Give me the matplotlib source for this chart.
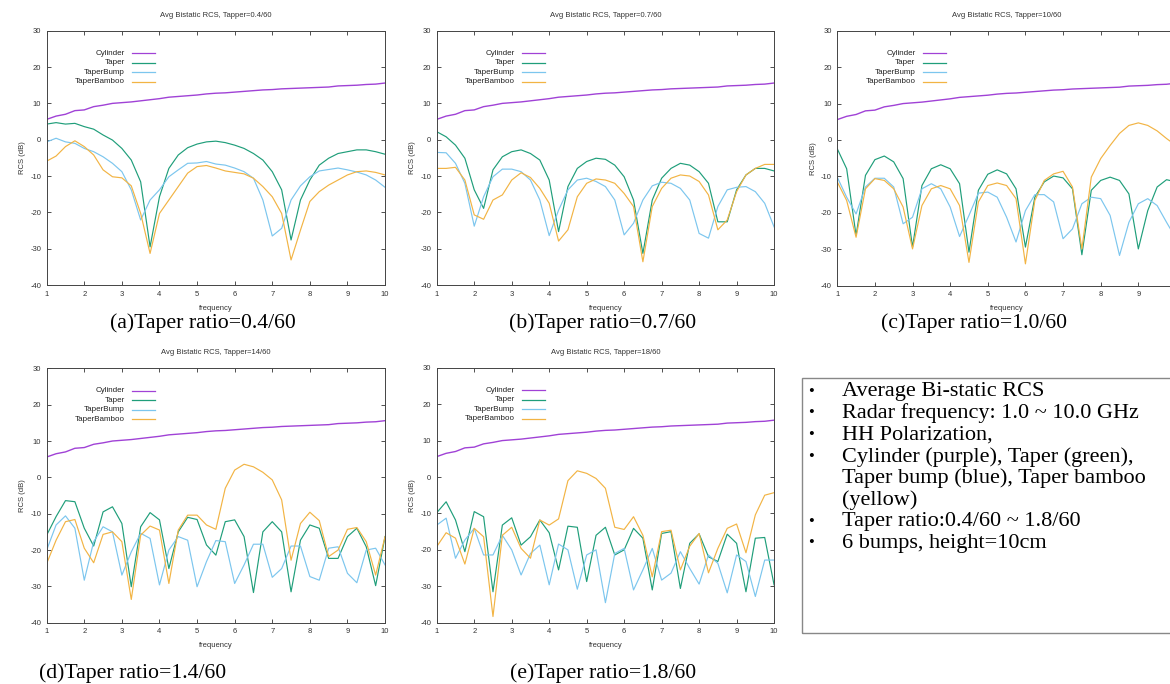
import matplotlib.pyplot as plt
from matplotlib.patches import Rectangle

plt.rcParams['axes.unicode_minus'] = False

# frequency grid (GHz), 0.25 step
freq = [1.0, 1.25, 1.5, 1.75, 2.0, 2.25, 2.5, 2.75, 3.0, 3.25, 3.5, 3.75, 4.0,
        4.25, 4.5, 4.75, 5.0, 5.25, 5.5, 5.75, 6.0, 6.25, 6.5, 6.75, 7.0,
        7.25, 7.5, 7.75, 8.0, 8.25, 8.5, 8.75, 9.0, 9.25, 9.5, 9.75, 10.0]

cylinder = [5.6, 6.5, 7.0, 8.0, 8.2, 9.1, 9.5, 10.0, 10.2, 10.4, 10.7, 11.0, 11.3,
            11.7, 11.9, 12.1, 12.3, 12.6, 12.8, 12.9, 13.1, 13.3, 13.5, 13.7, 13.8,
            14.0, 14.1, 14.2, 14.3, 14.4, 14.5, 14.8, 14.9, 15.0, 15.2, 15.3, 15.6]

# (a) taper 0.4/60
taper_a = [4.3, 4.7, 4.3, 4.5, 3.6, 2.9, 1.3, -0.1, -2.4, -5.6, -11.6, -29.5, -15.7,
           -7.9, -4.2, -2.2, -1.2, -0.6, -0.4, -0.8, -1.5, -2.4, -3.8, -5.6, -8.8,
           -13.8, -27.6, -16.6, -11.1, -7.0, -5.1, -3.8, -3.3, -2.8, -2.8, -3.3, -4.0]
bump_a = [-0.6, 0.4, -0.6, -1.0, -2.4, -3.3, -4.7, -6.5, -8.8, -13.8, -22.1, -16.6, -13.8,
          -10.2, -8.3, -6.5, -6.4, -6.0, -6.7, -7.0, -7.8, -8.8, -10.6, -16.6, -26.5,
          -24.4, -16.6, -12.7, -10.2, -8.6, -8.2, -7.8, -8.3, -8.9, -9.7, -11.1, -13.1]
bamboo_a = [-5.9, -4.5, -1.9, -0.3, -1.9, -4.2, -8.3, -10.2, -10.5, -12.7, -20.3, -31.3, -20.3,
            -16.6, -12.9, -9.2, -7.4, -7.1, -7.8, -8.6, -9.0, -9.4, -10.6, -12.9, -15.7,
            -20.3, -33.1, -24.9, -17.0, -14.3, -12.5, -11.1, -9.7, -8.8, -8.6, -9.0, -9.7]

# (b) taper 0.7/60
taper_b = [2.2, 0.8, -1.5, -5.1, -13.8, -18.9, -8.3, -4.7, -3.3, -2.8, -3.8, -5.6, -11.1,
           -25.3, -12.9, -7.9, -6.0, -5.1, -5.4, -7.0, -10.2, -16.6, -31.3, -16.6, -10.6,
           -7.9, -6.5, -7.0, -8.8, -12.0, -22.6, -22.6, -13.8, -9.7, -7.9, -7.9, -8.6]
bump_b = [-3.5, -3.6, -6.5, -12.0, -23.8, -15.7, -10.2, -8.1, -8.1, -8.8, -11.1, -16.6, -26.4,
          -19.4, -13.8, -11.1, -10.6, -11.5, -12.9, -16.6, -26.2, -23.0, -16.6, -12.7, -11.7,
          -12.0, -13.4, -16.6, -25.8, -27.1, -18.4, -13.8, -13.1, -12.9, -14.3, -17.5, -24.0]
bamboo_b = [-7.9, -7.9, -7.6, -11.1, -20.7, -21.9, -16.6, -15.2, -11.1, -9.1, -10.4, -13.4, -17.5,
            -27.9, -24.8, -15.7, -12.0, -10.8, -11.1, -12.0, -14.8, -18.4, -33.6, -18.4, -13.4,
            -10.6, -9.7, -10.0, -11.5, -15.2, -24.8, -22.1, -14.3, -9.7, -7.9, -6.8, -6.8]

# (c) taper 1.0/60
taper_c = [-2.4, -7.9, -26.2, -9.7, -5.4, -4.4, -6.0, -10.6, -29.4, -12.5, -7.9, -6.8, -7.9,
           -12.0, -30.8, -13.8, -9.4, -8.2, -9.3, -13.4, -29.4, -15.7, -11.5, -9.9, -10.4,
           -13.4, -31.5, -13.8, -11.1, -10.2, -11.1, -14.8, -29.9, -19.4, -12.9, -10.9, -11.5]
bump_c = [-10.2, -15.7, -20.3, -12.9, -10.5, -10.5, -12.9, -23.0, -21.2, -13.4, -12.0, -13.4, -18.4,
          -26.5, -20.7, -14.6, -14.3, -15.7, -21.2, -28.0, -19.4, -15.0, -15.0, -17.0, -27.1,
          -24.4, -17.5, -15.7, -16.1, -20.7, -31.7, -22.6, -17.5, -16.1, -18.0, -22.6, -27.0]
bamboo_c = [-11.5, -16.6, -26.7, -13.4, -10.6, -11.1, -13.4, -18.4, -29.9, -18.0, -13.4, -12.5, -13.4,
            -18.0, -33.6, -17.0, -12.5, -11.8, -12.5, -16.1, -34.0, -16.6, -11.1, -9.3, -8.6,
            -12.9, -29.9, -10.2, -5.1, -1.5, 1.8, 4.0, 4.7, 4.0, 2.5, 0.4, -1.5]

# (d) taper 1.4/60
taper_d = [-15.9, -10.8, -6.4, -6.7, -14.0, -18.9, -9.5, -8.1, -12.7, -30.1, -13.6, -9.7, -11.7,
           -25.1, -15.0, -11.0, -11.6, -18.6, -21.4, -12.2, -11.7, -16.3, -31.7, -15.0, -12.2,
           -15.0, -31.5, -17.3, -13.1, -14.0, -22.3, -22.3, -16.3, -14.0, -19.1, -29.8, -16.3]
bump_d = [-20.0, -13.1, -10.6, -14.0, -28.3, -17.7, -13.6, -15.0, -26.9, -20.5, -15.4, -16.8, -29.6,
          -20.0, -16.3, -17.3, -30.1, -23.2, -17.4, -17.7, -29.2, -24.1, -18.4, -18.4, -27.5,
          -25.1, -18.9, -18.9, -27.3, -28.3, -19.5, -19.1, -26.4, -29.0, -20.0, -19.5, -24.1]
bamboo_d = [-23.7, -17.3, -12.2, -11.6, -19.5, -23.5, -15.7, -15.0, -17.7, -33.6, -15.9, -13.4, -14.5,
            -29.2, -14.5, -10.4, -10.4, -13.1, -14.3, -3.0, 2.0, 3.6, 2.9, 1.4, -0.7,
            -6.2, -22.8, -12.7, -9.6, -11.9, -21.8, -20.0, -14.3, -13.8, -17.7, -26.9, -16.3]

# (e) taper 1.8/60
taper_e = [-9.8, -6.8, -11.8, -20.5, -9.5, -10.9, -31.5, -13.2, -11.2, -18.7, -16.4, -11.8, -15.3,
           -25.5, -13.5, -13.8, -28.7, -16.0, -13.8, -21.4, -20.0, -14.1, -16.8, -31.0, -15.5,
           -15.0, -30.6, -18.2, -15.6, -21.9, -23.2, -15.7, -18.2, -31.5, -16.8, -16.6, -29.6]
bump_e = [-13.2, -11.3, -22.3, -17.3, -14.1, -21.4, -21.4, -16.0, -20.0, -26.9, -21.0, -18.7, -29.6,
          -18.4, -20.0, -30.8, -21.4, -20.0, -34.5, -21.0, -19.6, -31.0, -25.5, -19.6, -28.3,
          -26.4, -20.5, -25.1, -29.4, -21.4, -23.7, -31.8, -21.4, -23.2, -32.8, -22.8, -22.8]
bamboo_e = [-19.1, -15.3, -16.8, -23.9, -14.1, -16.4, -38.3, -16.0, -13.8, -19.6, -22.3, -11.8, -13.2,
            -11.5, -1.0, 1.7, 1.0, -0.4, -3.1, -13.8, -14.4, -10.9, -16.0, -27.4, -15.0,
            -14.6, -25.5, -19.0, -15.5, -26.3, -19.6, -14.1, -12.9, -20.8, -10.4, -5.0, -4.3]

labels = ['Cylinder', 'Taper', 'TaperBump', 'TaperBamboo']
colors = ['#a042d6', '#1f9e7a', '#7cc6ee', '#f2b444']

panels = [
    ('0.4/60', '(a)Taper ratio=0.4/60', [taper_a, bump_a, bamboo_a]),
    ('0.7/60', '(b)Taper ratio=0.7/60', [taper_b, bump_b, bamboo_b]),
    ('10/60', '(c)Taper ratio=1.0/60', [taper_c, bump_c, bamboo_c]),
    ('14/60', '(d)Taper ratio=1.4/60', [taper_d, bump_d, bamboo_d]),
    ('18/60', '(e)Taper ratio=1.8/60', [taper_e, bump_e, bamboo_e]),
]
# axes boxes in figure fractions, caption centres
boxes = [
    [0.0399, 0.5833, 0.2892, 0.3718],
    [0.3733, 0.5833, 0.2883, 0.3718],
    [0.7156, 0.5823, 0.2895, 0.3728],
    [0.0399, 0.0896, 0.2892, 0.3719],
    [0.3733, 0.0896, 0.2883, 0.3728],
]
captions_xy = [(203, 323), (603, 323), (974, 323), (133, 673), (603, 673)]

W, H = 1170, 684
fig = plt.figure(figsize=(W / 100, H / 100), dpi=100)
fig.patch.set_facecolor('white')

sans = 'Liberation Sans'
serif = 'Liberation Serif'

for k, ((tag, caption, series), box, (cx, cy)) in enumerate(zip(panels, boxes, captions_xy)):
    ax = fig.add_axes(box)
    all_series = [cylinder] + series
    for lab, col, ys in zip(labels, colors, all_series):
        lw = 1.0 if lab == 'Cylinder' else 0.85
        ax.plot(freq, ys, color=col, lw=lw)
    ax.set_xlim(1, 10)
    ax.set_ylim(-40, 30)
    ax.set_xticks(range(1, 11))
    if k == 2:
        # the right edge of this panel is cropped in the slide
        ax.set_xticklabels([str(v) for v in range(1, 10)] + [''])
    ax.set_yticks(range(-40, 31, 10))
    ax.tick_params(direction='in', top=True, right=True, length=3, width=0.6,
                   labelsize=5.5, colors='#333333', pad=4)
    for lbl in ax.get_xticklabels() + ax.get_yticklabels():
        lbl.set_family(sans)
    for sp in ax.spines.values():
        sp.set_color('#444444')
        sp.set_linewidth(0.7)
    ax.set_title('Avg Bistatic RCS, Tapper=' + tag, fontsize=5.5, family=sans,
                 color='#333333', pad=10)
    ax.set_xlabel('frequency', fontsize=5.5, family=sans, color='#333333', labelpad=5)
    ax.set_ylabel('RCS (dB)', fontsize=5.5, family=sans, color='#333333', labelpad=3)

    # gnuplot style key: right aligned text, sample after it
    for i, (lab, col) in enumerate(zip(labels, colors)):
        yk = 0.911 - i * 0.037
        ax.text(0.231, yk, lab, transform=ax.transAxes, ha='right', va='center',
                fontsize=5.8, family=sans, color='#222222')
        ax.plot([0.252, 0.321], [yk, yk], transform=ax.transAxes, color=col, lw=0.9)

    fig.text(cx / W, 1 - cy / H, caption, ha='center', va='center',
             fontsize=15.7, family=serif, color='black')

# note box
fig.patches.append(Rectangle((801.7 / W, 1 - 633 / H), (1180 - 801.7) / W, (633 - 378.3) / H,
                             transform=fig.transFigure, fill=False,
                             edgecolor='#888888', lw=1.0))
notes = ['Average Bi-static RCS',
         'Radar frequency: 1.0 ~ 10.0 GHz',
         'HH Polarization,',
         'Cylinder (purple), Taper (green),',
         'Taper bump (blue), Taper bamboo',
         '(yellow)',
         'Taper ratio:0.4/60 ~ 1.8/60',
         '6 bumps, height=10cm']
bullets = [True, True, True, True, False, False, True, True]
for i, (line, b) in enumerate(zip(notes, bullets)):
    y = 1 - (391.7 + i * 21.66) / H
    if b:
        fig.text(808 / W, y, '•', ha='left', va='center', fontsize=12, family=serif)
    fig.text(841.7 / W, y, line, ha='left', va='center', fontsize=16, family=serif)

fig.savefig('out.png', dpi=100)
